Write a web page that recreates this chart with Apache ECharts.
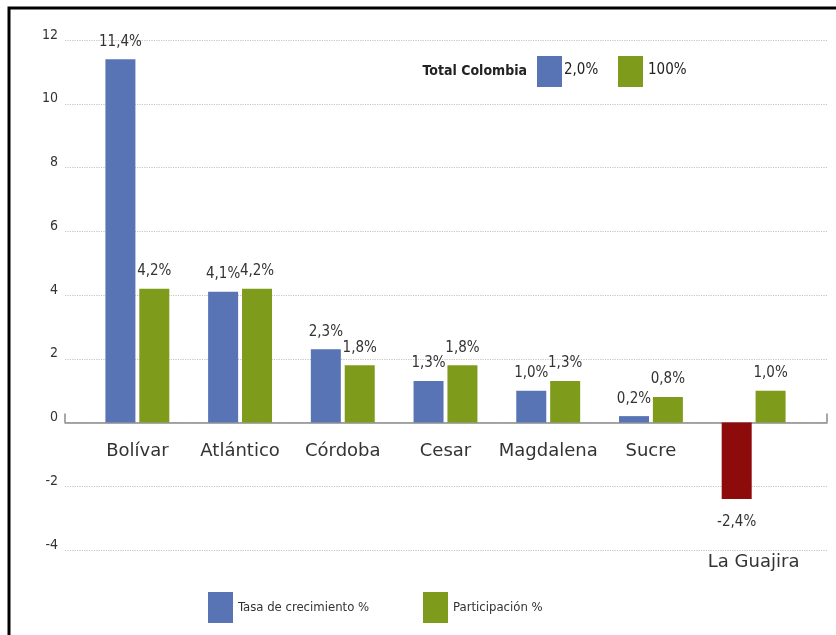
<!DOCTYPE html>
<html>
<head>
<meta charset="utf-8">
<script src="https://cdn.jsdelivr.net/npm/echarts@6/dist/echarts.min.js"></script>
<style>
html,body{margin:0;padding:0;background:#fff;}
#chart{width:836px;height:635px;}
</style>
</head>
<body>
<div id="chart"></div>
<script>
const categories = ['Bolívar', 'Atlántico', 'Córdoba', 'Cesar', 'Magdalena', 'Sucre', 'La Guajira'];
const tasaCrecimiento = [11.4, 4.1, 2.3, 1.3, 1.0, 0.2, -2.4];
const participacion = [4.2, 4.2, 1.8, 1.8, 1.3, 0.8, 1.0];
const seriesNames = ['Tasa de crecimiento %', 'Participación %'];
const totalLabel = 'Total Colombia';
const totalValues = [2.0, 100];
const totalDecimals = [1, 0];
const yMin = -4, yMax = 12, yStep = 2;

const BLUE = '#5874b4', GREEN = '#7e9b1c', RED = '#8e0b0b';
const NARROW = "'Liberation Sans Narrow', 'DejaVu Sans Condensed', sans-serif";
const fmt = (v, d) => v.toFixed(d).replace('.', ',') + '%';

const chart = echarts.init(document.getElementById('chart'));

const barLabel = {
  show: true, position: 'top', distance: 10,
  fontFamily: NARROW, fontSize: 15, color: '#333',
  formatter: p => fmt(p.value, 1)
};

const tasaData = tasaCrecimiento.map(v => v < 0
  ? { value: v, itemStyle: { color: RED }, label: { position: 'bottom', distance: 16 } }
  : v);

chart.setOption({
  animation: false,
  backgroundColor: '#fff',
  grid: [
    { left: 65, right: 9, top: 40, bottom: 85, outerBoundsMode: 'none', containLabel: false },
    { left: 86, right: 31, top: 40, bottom: 85, outerBoundsMode: 'none', containLabel: false }
  ],
  xAxis: [
    { gridIndex: 0, type: 'value', min: 0, max: 1, interval: 1,
      axisLine: { show: true, onZero: true, lineStyle: { color: '#8a8a8a', width: 1.5 } },
      axisTick: { show: true, inside: true, length: 9, lineStyle: { color: '#8a8a8a', width: 1.5 } },
      axisLabel: { show: false }, splitLine: { show: false } },
    { gridIndex: 1, type: 'category', data: categories, position: 'bottom',
      axisLine: { show: false, onZero: false },
      axisTick: { show: false },
      axisLabel: {
        margin: -108, fontFamily: 'DejaVu Sans', fontSize: 18, color: '#333', interval: 0,
        hideOverlap: false,
        formatter: v => v === categories[categories.length - 1] ? '{low|' + v + '}' : v,
        rich: { low: { padding: [111, 0, 0, 0], fontFamily: 'DejaVu Sans', fontSize: 18, color: '#333' } }
      } }
  ],
  yAxis: [
    { gridIndex: 0, type: 'value', min: yMin, max: yMax, interval: yStep,
      axisLine: { show: false }, axisTick: { show: false },
      axisLabel: { margin: 7, fontFamily: NARROW, fontSize: 14, color: '#333', verticalAlign: 'bottom', lineHeight: 10 },
      splitLine: { show: true, lineStyle: { color: '#c4c4c4', type: 'dotted', width: 1.2 } } },
    { gridIndex: 1, type: 'value', min: yMin, max: yMax, interval: yStep,
      axisLine: { show: false }, axisTick: { show: false }, axisLabel: { show: false },
      splitLine: { show: false } }
  ],
  legend: [
    { data: [seriesNames[0]], left: 203, top: 587, itemWidth: 25, itemHeight: 31,
      icon: 'rect', textStyle: { fontFamily: NARROW, fontSize: 13, color: '#333' } },
    { data: [seriesNames[1]], left: 418, top: 587, itemWidth: 25, itemHeight: 31,
      icon: 'rect', textStyle: { fontFamily: NARROW, fontSize: 13, color: '#333' } }
  ],
  series: [
    { name: seriesNames[0], type: 'bar', xAxisIndex: 1, yAxisIndex: 1,
      data: tasaData, barWidth: 30, barGap: '13%',
      itemStyle: { color: BLUE },
      label: barLabel },
    { name: seriesNames[1], type: 'bar', xAxisIndex: 1, yAxisIndex: 1,
      data: participacion, barWidth: 30,
      itemStyle: { color: GREEN },
      label: barLabel }
  ],
  graphic: [
    { type: 'polyline', shape: { points: [[9, 635], [9, 8], [836, 8]] },
      style: { stroke: '#000', lineWidth: 3, fill: null } },
    { type: 'text', right: 836 - 527, top: 64,
      style: { text: totalLabel, fontFamily: NARROW, fontSize: 14, fontWeight: 'bold', fill: '#222' } },
    { type: 'rect', shape: { x: 537, y: 56, width: 25, height: 31 }, style: { fill: BLUE } },
    { type: 'text', left: 564, top: 63,
      style: { text: fmt(totalValues[0], totalDecimals[0]), fontFamily: NARROW, fontSize: 15, fill: '#222' } },
    { type: 'rect', shape: { x: 618, y: 56, width: 25, height: 31 }, style: { fill: GREEN } },
    { type: 'text', left: 648, top: 63,
      style: { text: fmt(totalValues[1], totalDecimals[1]), fontFamily: NARROW, fontSize: 15, fill: '#222' } }
  ]
});
</script>
</body>
</html>
